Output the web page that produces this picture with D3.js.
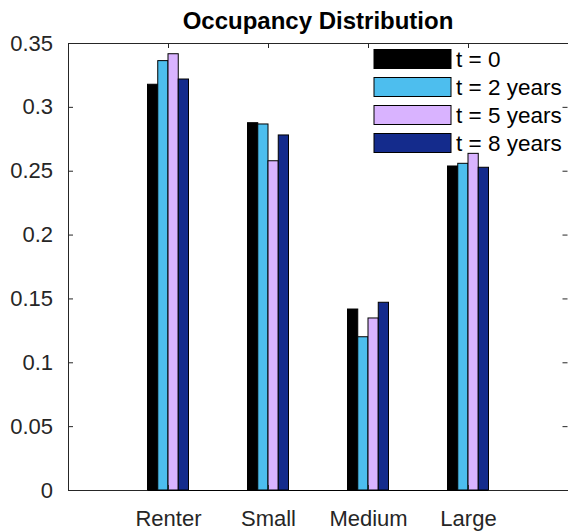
<!DOCTYPE html>
<html>
<head>
<meta charset="utf-8">
<script src="https://cdn.jsdelivr.net/npm/d3@7"></script>
<style>
  html, body { margin: 0; padding: 0; background: #fff; }
  svg { display: block; }
  text { font-family: "Liberation Sans", Arial, Helvetica, sans-serif; }
</style>
</head>
<body>
<script>
// ---- data ----
const categories = ["Renter", "Small", "Medium", "Large"];
const seriesNames = ["t = 0", "t = 2 years", "t = 5 years", "t = 8 years"];
const t0 = [0.3177, 0.2876, 0.1417, 0.2537];
const t2 = [0.3362, 0.2866, 0.1200, 0.2558];
const t5 = [0.3416, 0.2578, 0.1347, 0.2636];
const t8 = [0.3218, 0.2780, 0.1470, 0.2527];
const seriesColors = ["#000000", "#4DBEEE", "#D9B3FF", "#142B8C"];
const yTicks = [0, 0.05, 0.1, 0.15, 0.2, 0.25, 0.3, 0.35];
const xPositions = [1, 2, 3, 4];
const chartTitle = "Occupancy Distribution";

const seriesValues = [t0, t2, t5, t8];

const W = 568, H = 531;
const mLeft = 68, mRight = 568, mTop = 43, mBottom = 490;
const axisColor = "#262626";

const svg = d3.select("body").append("svg")
  .attr("width", W).attr("height", H);

const x = d3.scaleLinear().domain([0, 5]).range([mLeft, mRight]);
const y = d3.scaleLinear().domain([0, 0.35]).range([mBottom, mTop]);
const inner = d3.scaleBand().domain(d3.range(seriesNames.length))
  .range([-0.205, 0.205]).padding(0);

const firstX = x(xPositions[0] + inner(0));
const lastX = x(xPositions[xPositions.length - 1] + inner(seriesNames.length - 1) + inner.bandwidth());

// bars
const bars = [];
seriesValues.forEach((vals, s) => {
  vals.forEach((v, i) => bars.push({ s, i, v }));
});
svg.append("g").selectAll("rect").data(bars).enter().append("rect")
  .attr("x", d => x(xPositions[d.i] + inner(d.s)))
  .attr("width", d => x(inner.bandwidth()) - x(0))
  .attr("y", d => y(d.v))
  .attr("height", d => y(0) - y(d.v))
  .attr("fill", d => seriesColors[d.s])
  .attr("stroke", "#000")
  .attr("stroke-width", 1);

// axes
const fmt = d => String(+d.toFixed(2));
const gLeft = svg.append("g").attr("transform", `translate(${mLeft},0)`)
  .call(d3.axisLeft(y).tickValues(yTicks).tickFormat(fmt).tickSize(-5).tickSizeOuter(0).tickPadding(15));
const gRight = svg.append("g").attr("transform", `translate(${mRight - 0.5},0)`)
  .call(d3.axisRight(y).tickValues(yTicks).tickFormat("").tickSize(-5).tickSizeOuter(0));
const gTop = svg.append("g").attr("transform", `translate(0,${mTop})`)
  .call(d3.axisTop(x).tickValues(xPositions).tickFormat("").tickSize(-5).tickSizeOuter(0));
const gBottom = svg.append("g").attr("transform", `translate(0,${mBottom})`)
  .call(d3.axisBottom(x).tickValues(xPositions).tickFormat((d, i) => categories[i]).tickSize(-5).tickSizeOuter(0).tickPadding(20));

[gLeft, gRight, gTop, gBottom].forEach(g => {
  g.selectAll("path, line").attr("stroke", axisColor);
  g.selectAll("text").attr("fill", "#262626").style("font-size", "22px")
    .style("font-family", '"Liberation Sans", Arial, Helvetica, sans-serif');
});
gRight.select("path").remove();

// bar baseline
svg.append("line")
  .attr("x1", firstX).attr("x2", lastX)
  .attr("y1", y(0) + 0.5).attr("y2", y(0) + 0.5)
  .attr("stroke", "#000").attr("stroke-width", 1);

// title
svg.append("text")
  .attr("x", (mLeft + mRight) / 2).attr("y", 29)
  .attr("text-anchor", "middle")
  .style("font-size", "24px").style("font-weight", "bold")
  .attr("fill", "#000")
  .text(chartTitle);

// legend
const leg = svg.append("g");
const legItems = leg.selectAll("g").data(seriesNames).enter().append("g")
  .attr("transform", (d, i) => `translate(374,${59 + i * 28})`);
legItems.append("rect")
  .attr("x", 0).attr("y", -9.5).attr("width", 77).attr("height", 19)
  .attr("fill", (d, i) => seriesColors[i])
  .attr("stroke", "#000").attr("stroke-width", 1);
legItems.append("text")
  .attr("x", 82).attr("y", 0).attr("dy", "0.35em")
  .style("font-size", "22.5px").attr("fill", "#000")
  .text(d => d);
</script>
</body>
</html>
